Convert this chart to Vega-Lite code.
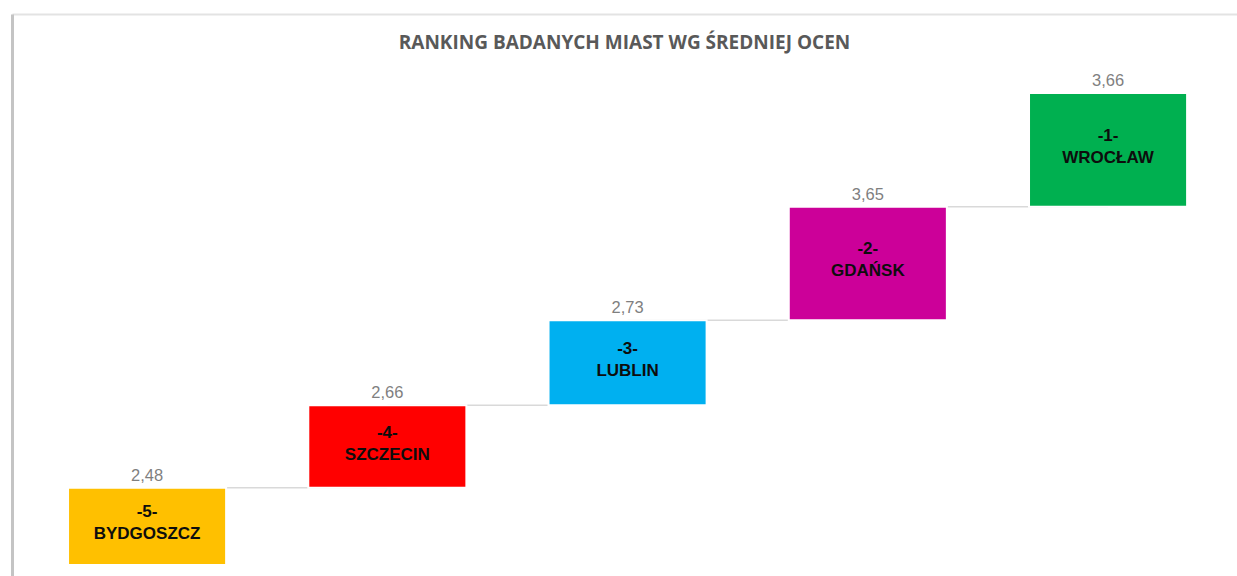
{
  "$schema": "https://vega.github.io/schema/vega-lite/v6.json",
  "width": 1225,
  "height": 562,
  "autosize": {"type": "none"},
  "padding": {"left": 12, "top": 14, "right": 0, "bottom": 0},
  "background": "white",
  "title": {
    "text": "RANKING BADANYCH MIAST WG ŚREDNIEJ OCEN",
    "orient": "top",
    "anchor": "middle",
    "offset": -39,
    "font": "Open Sans",
    "fontSize": 19,
    "fontWeight": "bold",
    "color": "#595959"
  },
  "data": {
    "values": [
      {"miasto": "BYDGOSZCZ", "miejsce": "-5-", "ocena": 2.48, "od": 0, "do": 2.48},
      {"miasto": "SZCZECIN", "miejsce": "-4-", "ocena": 2.66, "od": 2.48, "do": 5.14},
      {"miasto": "LUBLIN", "miejsce": "-3-", "ocena": 2.73, "od": 5.14, "do": 7.87},
      {"miasto": "GDAŃSK", "miejsce": "-2-", "ocena": 3.65, "od": 7.87, "do": 11.52},
      {"miasto": "WROCŁAW", "miejsce": "-1-", "ocena": 3.66, "od": 11.52, "do": 15.18}
    ]
  },
  "encoding": {
    "x": {
      "field": "miasto",
      "type": "nominal",
      "sort": null,
      "scale": {"paddingInner": 0.342, "paddingOuter": 0.2205, "align": 0.529},
      "axis": {
        "orient": "top",
        "title": null,
        "labels": false,
        "ticks": false,
        "grid": false,
        "domain": true,
        "domainColor": "#e3e3e3",
        "domainWidth": 2
      }
    }
  },
  "layer": [
    {
      "transform": [
        {"window": [{"op": "lead", "field": "miasto", "as": "nastepne"}], "sort": [{"field": "do", "order": "ascending"}]},
        {"filter": "datum.nastepne != null"}
      ],
      "mark": {"type": "rule", "color": "#d9d9d9", "strokeWidth": 1.5},
      "encoding": {
        "x2": {"field": "nastepne"},
        "y": {
          "field": "do",
          "type": "quantitative",
          "scale": {"domain": [-0.354, 17.717], "nice": false, "zero": false},
          "axis": {
            "orient": "left",
            "title": null,
            "labels": false,
            "ticks": false,
            "grid": false,
            "domain": true,
            "domainColor": "#c4c4c4",
            "domainWidth": 3
          }
        }
      }
    },
    {
      "mark": {"type": "bar", "stroke": "white", "strokeWidth": 2},
      "encoding": {
        "y": {"field": "od", "type": "quantitative"},
        "y2": {"field": "do"},
        "color": {
          "field": "miasto",
          "type": "nominal",
          "scale": {
            "domain": ["BYDGOSZCZ", "SZCZECIN", "LUBLIN", "GDAŃSK", "WROCŁAW"],
            "range": ["#FFC000", "#FF0000", "#00B0F0", "#CC0099", "#00B050"]
          },
          "legend": null
        }
      }
    },
    {
      "mark": {"type": "text", "baseline": "middle", "dy": -12, "font": "Liberation Sans", "fontSize": 16.5, "color": "#7f7f7f"},
      "encoding": {
        "y": {"field": "do", "type": "quantitative"},
        "text": {"field": "ocena", "type": "quantitative", "format": ".2f"}
      }
    },
    {
      "transform": [{"fold": ["od", "do"], "as": ["granica", "wartosc"]}],
      "mark": {"type": "text", "baseline": "middle", "dy": -14, "font": "Liberation Sans", "fontSize": 17, "fontWeight": "bold", "color": "#0d0d0d"},
      "encoding": {
        "y": {"aggregate": "mean", "field": "wartosc", "type": "quantitative"},
        "text": {"field": "miejsce", "type": "nominal"}
      }
    },
    {
      "transform": [{"fold": ["od", "do"], "as": ["granica", "wartosc"]}],
      "mark": {"type": "text", "baseline": "middle", "dy": 8, "font": "Liberation Sans", "fontSize": 17, "fontWeight": "bold", "color": "#0d0d0d"},
      "encoding": {
        "y": {"aggregate": "mean", "field": "wartosc", "type": "quantitative"},
        "text": {"field": "miasto", "type": "nominal"}
      }
    }
  ],
  "config": {
    "view": {"stroke": null},
    "locale": {
      "number": {"decimal": ",", "thousands": " ", "grouping": [3], "currency": ["", " zł"]}
    }
  }
}
